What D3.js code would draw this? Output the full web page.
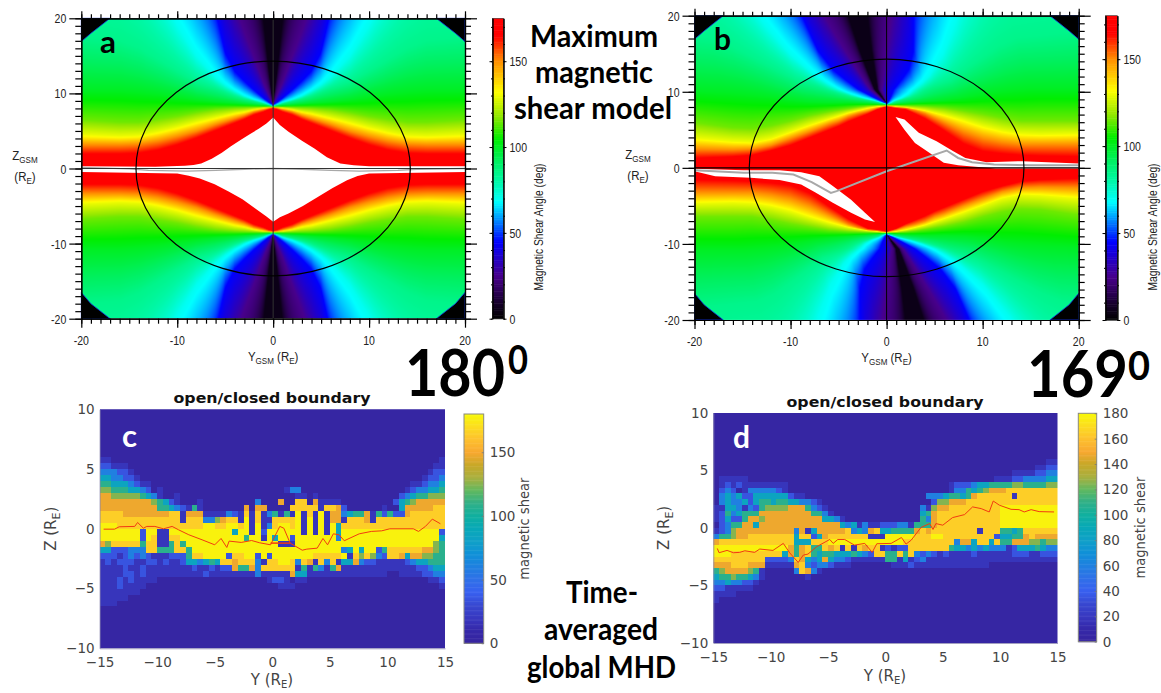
<!DOCTYPE html>
<html lang="en">

<head>
    <meta charset="UTF-8">
    <title>Magnetic shear</title>
    <script src="https://d3js.org/d3.v7.min.js"></script>
    <style>
        body {
            margin: 0;
            background: #fff;
        }

        .model text {
            font-family: 'Liberation Sans', sans-serif;
            font-size: 13.5px;
            fill: #222;
        }

        .mhd text {
            font-family: 'DejaVu Sans', sans-serif;
            font-size: 13.5px;
            fill: #444;
        }

        .big {
            font-family: Lato, sans-serif;
            font-weight: bold;
            fill: #000;
        }
    </style>
</head>

<body>
    <svg id="chart" width="1161" height="693"></svg>
    <script>
        // ---- model panels: z (RE) where the shear reaches each level, per |y| column
        const colY = [0, 0.5, 1, 2, 3, 4, 5, 6, 8, 10, 12, 14, 16, 20];
        const levels = [165, 150, 130, 115, 100, 85, 70, 45, 25, 5];
        const fanZ = [
            [8.35, 8.5, 8.7, 9.0, 9.3, 9.7, 10.2, 10.7, 11.5, 13, 14.5, 16, 17, 17.5],
            [8.4, 8.6, 8.85, 9.2, 9.7, 10.4, 11.2, 12.2, 15, 19, 24, 30, 36, 40],
            [8.45, 8.9, 9.4, 10.5, 11.7, 13, 15.5, 21, 30, 40, 50, 60, 70, 80],
            [8.5, 10, 11.5, 15, 18.3, 22, 27, 32, 45, 55, 65, 75, 85, 95],
            [8.55, 14, 20, 30, 40, 50, 60, 70, 80, 90, 100, 110, 120, 130]
        ];
        const warmA = [
            [8.1, 7.9, 7.6, 7.2, 6.6, 6.1, 5.6, 5.1, 4.1, 3.2, 2.5, 2.1, 2.0, 2.0],
            [8.15, 8.05, 7.9, 7.6, 7.1, 6.7, 6.3, 5.9, 5.0, 4.3, 3.7, 3.3, 3.2, 3.2],
            [8.2, 8.15, 8.1, 7.9, 7.6, 7.4, 7.1, 6.8, 6.2, 5.5, 4.9, 4.4, 4.3, 4.5],
            [8.25, 8.25, 8.25, 8.2, 8.15, 8.1, 8.0, 7.9, 7.5, 7.0, 6.6, 6.2, 6.2, 6.5],
            [8.3, 8.35, 8.4, 8.5, 8.6, 8.7, 8.8, 8.9, 9.2, 9.6, 10, 10.3, 10.5, 10.5]
        ];
        const warmBLeft = [
            [8.1, 7.9, 7.7, 7.1, 6.6, 6.1, 5.5, 5.0, 4.0, 3.0, 2.3, 1.7, 1.5, 1.3],
            [8.15, 8.05, 7.9, 7.5, 7.2, 6.8, 6.2, 5.8, 4.8, 3.9, 3.0, 2.5, 2.4, 2.5],
            [8.2, 8.15, 8.1, 7.9, 7.6, 7.3, 6.9, 6.5, 5.7, 4.8, 3.9, 3.4, 3.5, 3.9],
            [8.25, 8.25, 8.25, 8.15, 8.0, 7.8, 7.6, 7.4, 6.9, 6.2, 5.6, 5.2, 5.3, 6.0],
            [8.3, 8.35, 8.4, 8.5, 8.55, 8.6, 8.6, 8.6, 8.7, 9, 9.5, 9.8, 10, 10.2]
        ];
        const warmBRight = [
            [8.1, 7.95, 7.85, 7.7, 7.1, 6.5, 5.7, 4.9, 3.2, 2.2, 1.9, 1.7, 1.6, 1.5],
            [8.15, 8.1, 8.0, 7.9, 7.6, 7.2, 6.6, 6.0, 4.8, 3.9, 3.4, 3.1, 3.1, 3.1],
            [8.2, 8.2, 8.1, 8.0, 7.8, 7.6, 7.3, 7.0, 6.3, 5.5, 4.9, 4.5, 4.4, 4.5],
            [8.25, 8.25, 8.25, 8.2, 8.15, 8.1, 8.0, 7.9, 7.5, 7.1, 6.6, 6.2, 6.2, 6.2],
            [8.3, 8.35, 8.4, 8.5, 8.6, 8.7, 8.8, 8.9, 9.2, 9.6, 10, 10.3, 10.5, 10.5]
        ];
        // the dark wedge of panel b leans away from y=0 above the cusp
        const spineZ = [8.5, 10.3, 15.5, 20];
        const spineY = [0, -1.1, -2.2, -3];

        // saturated (white) regions, [y, z]
        const whiteA = [[-20, .3], [-12.3, .22], [-9.2, .35], [-8.3, .45], [-7.5, .67], [-6.4, 1.3], [-5.35, 2.1], [-4.4, 2.95], [-3.4, 3.8], [-2.4, 4.6], [-1.5, 5.3], [-.7, 6], [0, 6.8],
            [.7, 5.8], [1.6, 4.9], [3, 3.7], [4.3, 2.65], [5.6, 1.5], [7, .67], [8.4, .42], [10, .3], [20, .3],
            [20, -.45], [10, -.67], [8.8, -1], [7.7, -1.55], [6.2, -2.6], [4.65, -3.8], [3.1, -5], [1.6, -6], [.7, -6.5], [0, -7.1],
            [-.7, -6.4], [-1.9, -5.3], [-3.2, -4.1], [-4.6, -3.1], [-6.1, -2.1], [-7.65, -1.33], [-8.8, -.95], [-10, -.67], [-20, -.45]];
        const whiteBLeft = [[-20, -.13], [-14.9, -.3], [-11.15, -.3], [-8.9, -.57], [-7, -1.1], [-5.6, -2.4], [-3.7, -4.2], [-2.25, -5.9], [-1.2, -7.13],
            [-2.25, -6.8], [-3.7, -5.9], [-5.6, -4.6], [-7.45, -3.2], [-8.9, -2.2], [-11.15, -1.6], [-14.15, -1.3], [-17.85, -1.1], [-20, -.44]];
        const whiteBRight = [[.93, 6.7], [1.86, 6.35], [3.35, 4.6], [5.2, 3.5], [6.9, 2.2], [8.2, 1.3], [10.4, .74], [14.15, .88], [20, .57],
            [20, -.1], [11.35, -.1], [7.45, .35], [5.95, .66], [4.45, 1.97], [2.95, 3.28], [1.86, 5]];

        // grey reconnection lines
        const lineA = [[-20, .15], [-15, -.05], [-13, -.25], [-9, -.35], [-6, -.25], [-3, -.1], [0, 0], [3, -.1], [6, -.25], [9, -.35], [13, -.25], [15, -.1], [20, 0]];
        const lineB = [[-20, -.3], [-14.9, -.66], [-11.9, -.66], [-9.7, -.88], [-7.8, -1.88], [-5.8, -3.3], [-5.2, -3.06], [0, -.44], [6.25, 2.28], [7.45, 1.3], [8.9, .74], [11.2, .44], [14.9, .35], [20, .35]];

        // missing data corners of the model panels
        const corners = [
            [[-20, 20], [-17, 20], [-18, 19], [-19, 18], [-20, 16.9]],
            [[20, 20], [17, 20], [18, 19], [19, 18], [20, 16.9]],
            [[-20, -20], [-17, -20], [-18, -19], [-19, -18], [-20, -16.5]],
            [[20, -20], [17, -20], [18, -19], [19, -18], [20, -16.5]]
        ];
        const magnetopauseRadius = 14.3;

        const modelTicks = [-20, -10, 0, 10, 20];
        const modelMinor = d3.range(-20, 21);
        const modelBarTicks = [0, 50, 100, 150];
        const modelBarMinor = d3.range(0, 171, 10);

        const jetStops = [0, 8, 25, 45, 58, 68, 80, 92, 105, 118, 132, 150, 165, 175];
        const jetColors = ["#000000", "#120024", "#48008c", "#0000ff", "#0090ff", "#00ffff", "#00f8a8", "#00f060", "#00ee00", "#90e800", "#ffff00", "#ff9000", "#ff0000", "#ff0000"];

        // ---- MHD panels: one character per 0.5 RE cell, index into cellShear. Top row z=10.
        const cellShear = [4, 18, 35, 60, 85, 108, 125, 148, 165, 178];
        const firstRow = 8;
        const cRows = [
            "1100000000 0000000000 0000000000 0000000000 0000000000 0000000001",
            "2211100000 0000000000 0000000000 0000000000 0000000000 0000000011",
            "3332210000 0000000000 0000000000 0000000000 0000000000 0000000122",
            "4433221000 0000000000 0000000000 0000000000 0000000000 0000001223",
            "5544432110 0000000000 0000000000 0000000000 0000000000 0000112334",
            "6655544320 1000000000 0000000000 0013300000 0000000000 0001233445",
            "7766666543 1001000000 0000000000 0000110100 0000000000 0023455666",
            "7777777776 5421000100 0000000300 0700880711 1100000000 0245677777",
            "7777777777 5543215100 0000070770 0008888818 8720000001 0047777788",
            "8888777777 7788177711 1132181813 5151918191 7734557152 5227888888",
            "8888888888 8888188833 6788191811 8888919191 7718887188 8888888888",
            "9998888888 8888888899 8899891913 8998919191 9488888888 8888888888",
            "9999999299 1199999999 9994991929 9999919191 9499999999 9999999992",
            "9999999298 1188999999 9999959919 4992999999 9399999999 9999999994",
            "7688888588 1158599999 9999999999 9111999999 9999999999 9999999965",
            "4422233388 5558859999 9999999999 9999999999 9934949925 8888887765",
            "2221232321 1122258899 9928899292 9999999888 8891868632 8874776655",
            "1212221122 1211244345 4887888318 8998387183 8144732211 1112344555",
            "1111211211 1111112112 1227557388 8888151531 5711111111 1111122344",
            "1111221211 1111111121 1111111311 1117441111 1111111111 0011112233",
            "1112121111 0000000000 0000000001 2210110000 0000000000 0000000112",
            "1112111100 0000000000 0000000000 0111000000 0000000000 0000000001",
            "1111111000 0000000000 0000000000 0000000000 0000000000 0000000000",
            "1111100000 0000000000 0000000000 0000000000 0000000000 0000000000",
            "1110000000 0000000000 0000000000 0000000000 0000000000 0000000000"
        ];
        const dRows = [
            "0000000000 0000000000 0000000000 0000000000 0000000000 0000000011",
            "0000000000 0000000000 0000000000 0000000000 0000000000 0000001122",
            "0000000000 0000000000 0000000000 0000000000 0000000000 0011112233",
            "0111110000 0000000000 0000000000 0000000000 0000000001 1122333344",
            "0121211111 1110000000 0000000000 0000000000 0122234455 5566555566",
            "0232013333 3210000000 0000000000 0000000000 0133545677 7888888888",
            "0343422444 4442110000 0000000000 0000000333 4554578888 8818888888",
            "0343342455 4554433210 0000000000 0000000026 6777888888 8888888888",
            "1144313256 6667775321 0000000000 0000003167 7888888888 9999999999",
            "1253455577 7777777553 1000000000 0000004578 8888888888 9999999999",
            "1242257767 7777777774 4310000000 0000005378 8888888888 9999999999",
            "0235577477 7777777777 7743413112 2233155578 8888888888 9999999999",
            "1236777777 7777371477 7778343784 4555578788 8888881888 5545888888",
            "3556778888 8888488247 8888888111 9999988899 8888888882 4455787777",
            "7888888888 8888444888 9999999999 9998888888 8837748848 5577766566",
            "9999999999 9997578558 7818187881 2122888888 8544343433 3124445433",
            "9998888888 8847578545 5444543288 5585832321 2111121111 1122211222",
            "8888888882 2223874347 4332111111 5514123111 1111111111 1111111111",
            "7778887771 1111783233 2111000000 0111211111 1111111100 0000000000",
            "5677776510 0000387310 0000000000 0000000000 0000000000 0000000000",
            "4556554310 0000001000 0000000000 0000000000 0000000000 0000000000",
            "3343322100 0000000000 0000000000 0000000000 0000000000 0000000000",
            "2211111000 0000000000 0000000000 0000000000 0000000000 0000000000",
            "1111000000 0000000000 0000000000 0000000000 0000000000 0000000000",
            "1000000000 0000000000 0000000000 0000000000 0000000000 0000000000"
        ];

        // open/closed boundary, [y, z]
        const boundaryC = [[-14.65, -.03], [-13.7, -.03], [-13.3, .17], [-11.95, .2], [-11.7, .53], [-11.2, .05], [-10.9, .2], [-10.2, .2], [-9.45, 0], [-8.7, .2], [-8.15, -.08], [-7.25, -.5], [-6.1, -.92], [-5, -1.34], [-4.45, -.81], [-3.95, -1.56], [-3.75, -1.03], [-2.7, -1.14], [-1.8, -.98], [-1.1, -1.17], [-.15, -1.34], [.65, .2], [1, .05], [1.55, -1.2], [-.15, -1.2], [1.55, -1.2], [2.6, -1.79], [3, -1.7], [3.9, -1.62], [4.4, -.81], [4.8, -1.34], [5.3, -.42], [5.8, -.5], [6.25, -1], [7.55, -.42], [8.6, -.22], [9.5, -.17], [10.2, 0], [12.25, 0], [12.7, -.22], [13.3, .2], [13.9, .81], [14.6, .42]];
        const boundaryD = [[-14.65, -1.79], [-14.5, -2.16], [-13.8, -1.96], [-13.25, -2.16], [-12.7, -2.13], [-12.25, -1.99], [-11.4, -2.13], [-10.95, -1.84], [-9.8, -1.96], [-8.9, -1.35], [-8.35, -2.16], [-7.6, -3], [-7.15, -2.36], [-6.75, -2.28], [-6, -1.64], [-4.85, -1.01], [-4.55, -1.35], [-4.15, -1.01], [-3.55, -1.01], [-2.7, -1.5], [-1.8, -1.35], [-1.15, -2.13], [-.75, -1.38], [.5, -1.35], [1.4, -.84], [1.8, -1.41], [2.25, -1.07], [3.1, .03], [3.85, .37], [4.15, -.14], [4.4, .37], [5, .23], [5.85, .89], [6.9, 1.15], [7.6, 1.82], [8.35, 1.67], [9.05, 1.38], [9.4, 2.33], [9.95, 1.96], [10.95, 1.61], [11.65, 1.58], [12.1, 1.38], [12.7, 1.58], [13.4, 1.41], [14.7, 1.38]];

        const mhdXTicks = [-15, -10, -5, 0, 5, 10, 15];
        const mhdYTicks = [-10, -5, 0, 5, 10];
        const cBarTicks = [0, 50, 100, 150];
        const dBarTicks = [0, 20, 40, 60, 80, 100, 120, 140, 160, 180];

        const parulaStops = [0, 10, 20, 30, 40, 50, 60, 70, 80, 90, 100, 110, 120, 130, 140, 150, 160, 170, 180];
        const parulaColors = ["#37259f", "#3528a8", "#3838c0", "#3848d0", "#3860f0", "#3070e8", "#2080e0", "#1090d8", "#10a0c8", "#08a8b8", "#10b0a0", "#30b088", "#60b860", "#a8b040", "#c8a828", "#f8a830", "#fdc02e", "#fcdc20", "#f8f808"];

        const chart = d3.select("#chart");
        const jet = d3.scaleLinear().domain(jetStops).range(jetColors).clamp(true);
        const parula = d3.scaleLinear().domain(parulaStops).range(parulaColors).clamp(true);
        const spine = d3.scaleLinear().domain(spineZ).range(spineY).clamp(true);

        function shearAt(table, y, z) {
            const c = Math.min(d3.bisectRight(colY, y) - 1, colY.length - 2);
            const t = (y - colY[c]) / (colY[c + 1] - colY[c]);
            let prev = 0;
            for (let k = 0; k < levels.length; k++) {
                const zk = table[k][c] * (1 - t) + table[k][c + 1] * t;
                if (z < zk) {
                    if (k === 0) return levels[0];
                    return levels[k - 1] + (levels[k] - levels[k - 1]) * (z - prev) / (zk - prev);
                }
                prev = zk;
            }
            return levels[levels.length - 1];
        }

        const tableA = warmA.concat(fanZ);
        const tableBLeft = warmBLeft.concat(fanZ);
        const tableBRight = warmBRight.concat(fanZ);

        const fieldA = (y, z) => shearAt(tableA, Math.abs(y), z >= 0 ? z : -z / 1.03);
        function fieldB(y, z) {
            // lower half is the point mirror of the upper half
            if (z < 0) { y = -y; z = -z / 1.03; }
            const yy = y - spine(z);
            return shearAt(yy >= 0 ? tableBRight : tableBLeft, Math.abs(yy), z);
        }

        function styleAxis(g, color, width) {
            g.selectAll("path,line").attr("stroke", color).attr("stroke-width", width);
        }

        function modelPanel(o) {
            const x = d3.scaleLinear().domain([-20, 20]).range(o.xRange);
            const y = d3.scaleLinear().domain([-20, 20]).range(o.yRange);
            const g = chart.append("g").attr("class", "model");
            const w = Math.round(o.xRange[1] - o.xRange[0]), h = Math.round(o.yRange[0] - o.yRange[1]);

            // raster of the shear field
            const canvas = document.createElement("canvas");
            canvas.width = w;
            canvas.height = h;
            const ctx = canvas.getContext("2d");
            const img = ctx.createImageData(w, h);
            for (let j = 0; j < h; j++) {
                for (let i = 0; i < w; i++) {
                    const c = d3.rgb(jet(o.field(x.invert(o.xRange[0] + i + .5), y.invert(o.yRange[1] + j + .5))));
                    const p = 4 * (j * w + i);
                    img.data[p] = c.r;
                    img.data[p + 1] = c.g;
                    img.data[p + 2] = c.b;
                    img.data[p + 3] = 255;
                }
            }
            ctx.putImageData(img, 0, 0);
            g.append("image")
                .attr("href", canvas.toDataURL())
                .attr("x", o.xRange[0]).attr("y", o.yRange[1])
                .attr("width", o.xRange[1] - o.xRange[0]).attr("height", o.yRange[0] - o.yRange[1])
                .style("filter", "blur(.6px)");

            const poly = d3.line().x(d => x(d[0])).y(d => y(d[1]));
            g.selectAll(".corner").data(corners).enter().append("path")
                .attr("d", d => poly(d) + "Z")
                .attr("fill", "#000").attr("stroke", "#1030e0").attr("stroke-width", .8);
            g.selectAll(".white").data(o.white).enter().append("path")
                .attr("d", d => poly(d) + "Z")
                .attr("fill", "#fff");
            g.append("path").attr("d", poly(o.line))
                .attr("fill", "none").attr("stroke", "#a8a8a8").attr("stroke-width", o.lineWidth);

            g.append("line").attr("x1", x(-20)).attr("x2", x(20)).attr("y1", y(0)).attr("y2", y(0))
                .attr("stroke", o.crossColor).attr("stroke-width", 1.2);
            g.append("line").attr("x1", x(0)).attr("x2", x(0)).attr("y1", y(20)).attr("y2", y(-20))
                .attr("stroke", o.crossColor).attr("stroke-width", 1);
            g.append("ellipse")
                .attr("cx", x(0)).attr("cy", y(0))
                .attr("rx", x(magnetopauseRadius) - x(0)).attr("ry", y(0) - y(magnetopauseRadius))
                .attr("fill", "none").attr("stroke", "#000").attr("stroke-width", 1.2);

            // frame: ticks point outwards on all four sides
            const bottomPos = "translate(0," + y(-20) + ")", rightPos = "translate(" + x(20) + ",0)";
            const frame = [
                [d3.axisBottom(x), bottomPos, 5, 9], [d3.axisTop(x), "translate(0," + y(20) + ")", 4, 7],
                [d3.axisLeft(y), "translate(" + x(-20) + ",0)", 6, 12], [d3.axisRight(y), rightPos, 6, 12]
            ];
            frame.forEach(f => {
                const vals = [modelMinor, modelTicks];
                vals.forEach((v, k) => {
                    const a = chart.append("g").attr("transform", f[1])
                        .call(f[0].tickValues(v).tickSize(k ? f[3] : f[2]).tickSizeOuter(0).tickFormat(""));
                    styleAxis(a, "#000", 1.2);
                });
            });

            // tick labels, narrowed like the original
            modelTicks.forEach(t => {
                g.append("text").attr("text-anchor", "middle")
                    .attr("transform", `translate(${x(t)},${y(-20) + 26}) scale(.78,1)`).text(t);
                g.append("text").attr("text-anchor", "end")
                    .attr("transform", `translate(${x(-20) - 15},${y(t) + 5}) scale(.78,1)`).text(t);
            });
            const xl = g.append("text").attr("text-anchor", "middle")
                .attr("transform", `translate(${x(0)},${y(-20) + 42}) scale(.85,1)`);
            xl.append("tspan").text("Y");
            xl.append("tspan").attr("dy", 3).style("font-size", "9.5px").text("GSM");
            xl.append("tspan").attr("dy", -3).text(" (R");
            xl.append("tspan").attr("dy", 3).style("font-size", "9.5px").text("E");
            xl.append("tspan").attr("dy", -3).text(")");
            const zl = g.append("text").attr("text-anchor", "middle")
                .attr("transform", `translate(${o.zLabelX},${y(0) - 9}) scale(.85,1)`);
            zl.append("tspan").text("Z");
            zl.append("tspan").attr("dy", 3).style("font-size", "9.5px").text("GSM");
            const zr = g.append("text").attr("text-anchor", "middle")
                .attr("transform", `translate(${o.zLabelX},${y(0) + 12}) scale(.85,1)`);
            zr.append("tspan").text("(R");
            zr.append("tspan").attr("dy", 3).style("font-size", "9.5px").text("E");
            zr.append("tspan").attr("dy", -3).text(")");

            // colour bar
            const barY = d3.scaleLinear().domain([0, 175]).range(o.yRange);
            g.selectAll(".bar").data(d3.range(0, 175, 1)).enter().append("rect")
                .attr("x", o.barX[0]).attr("width", o.barX[1] - o.barX[0])
                .attr("y", d => barY(d + 1)).attr("height", d => barY(d) - barY(d + 1) + .5)
                .attr("fill", d => jet(d + .5));
            g.append("rect").attr("x", o.barX[0]).attr("width", o.barX[1] - o.barX[0])
                .attr("y", o.yRange[1]).attr("height", o.yRange[0] - o.yRange[1])
                .attr("fill", "none").attr("stroke", "#333").attr("stroke-width", .6);
            [[modelBarMinor, 1.5], [modelBarTicks, 3]].forEach(t => {
                styleAxis(chart.append("g").attr("transform", `translate(${o.barX[0]},0)`)
                    .call(d3.axisLeft(barY).tickValues(t[0]).tickSize(t[1]).tickSizeOuter(0).tickFormat("")), "#000", 1);
                styleAxis(chart.append("g").attr("transform", `translate(${o.barX[1]},0)`)
                    .call(d3.axisRight(barY).tickValues(t[0]).tickSize(t[1]).tickSizeOuter(0).tickFormat("")), "#000", 1);
            });
            modelBarTicks.forEach(t => {
                g.append("text").attr("transform", `translate(${o.barX[1] + 6},${barY(t) + 5}) scale(.78,1)`).text(t);
            });
            g.append("text").attr("text-anchor", "middle")
                .attr("transform", `translate(${o.barLabelX},${o.barLabelY}) rotate(-90) scale(.82,1)`)
                .style("font-size", "12.5px").text("Magnetic Shear Angle (deg)");
        }

        function mhdPanel(o) {
            const x = d3.scaleLinear().domain([-15, 15]).range(o.xRange);
            const y = d3.scaleLinear().domain([-10, 10]).range(o.yRange);
            const g = chart.append("g").attr("class", "mhd");
            const cells = [];
            d3.range(40).forEach(r => {
                const row = (o.rows[r - firstRow] || "").replace(/ /g, "");
                d3.range(60).forEach(c => cells.push({ c, r, v: cellShear[+(row[c] || 0)] }));
            });
            const clipId = o.name + "Clip";
            chart.append("clipPath").attr("id", clipId).append("rect")
                .attr("x", o.xRange[0]).attr("y", o.yRange[1])
                .attr("width", o.xRange[1] - o.xRange[0]).attr("height", o.yRange[0] - o.yRange[1]);
            g.append("g").attr("clip-path", `url(#${clipId})`).append("g")
                .style("filter", "blur(.7px)")
                .selectAll("rect").data(cells).enter().append("rect")
                .attr("x", d => x(-15 + d.c * .5))
                .attr("y", d => y(10 - d.r * .5))
                .attr("width", x(.5) - x(0) + .6)
                .attr("height", y(0) - y(.5) + .6)
                .attr("shape-rendering", "crispEdges")
                .attr("fill", d => parula(d.v));
            g.append("path")
                .attr("d", d3.line().x(d => x(d[0])).y(d => y(d[1]))(o.boundary))
                .attr("fill", "none").attr("stroke", "#f23a10").attr("stroke-width", 1);

            const ax = g.append("g").attr("transform", `translate(0,${o.yRange[0]})`)
                .call(d3.axisBottom(x).tickValues(mhdXTicks).tickSize(0).tickPadding(9));
            const ay = g.append("g").attr("transform", `translate(${o.xRange[0]},0)`)
                .call(d3.axisLeft(y).tickValues(mhdYTicks).tickSize(0).tickPadding(5));
            styleAxis(ax, "#8a86b0", .8);
            styleAxis(ay, "#8a86b0", .8);
            ax.selectAll("text").style("font-family", "'DejaVu Sans'").style("font-size", "13.5px").attr("fill", "#444");
            ay.selectAll("text").style("font-family", "'DejaVu Sans'").style("font-size", "13.5px").attr("fill", "#444");

            g.append("text").attr("x", o.titleX).attr("y", o.titleY).attr("text-anchor", "middle")
                .attr("textLength", 197).attr("lengthAdjust", "spacingAndGlyphs")
                .style("font-weight", "bold").style("font-size", "14px").style("fill", "#111")
                .text("open/closed boundary");
            const xl = g.append("text").attr("x", o.titleX).attr("y", o.xLabelY).attr("text-anchor", "middle")
                .style("font-size", "15px");
            xl.append("tspan").text("Y (R");
            xl.append("tspan").attr("dy", 3).style("font-size", "10px").text("E");
            xl.append("tspan").attr("dy", -3).text(")");
            const yl = g.append("text").attr("text-anchor", "middle")
                .attr("transform", `translate(${o.zLabelX},${y(0)}) rotate(-90)`).style("font-size", "15px");
            yl.append("tspan").text("Z (R");
            yl.append("tspan").attr("dy", 4).style("font-size", "11px").text("E");
            yl.append("tspan").attr("dy", -4).text(")");

            // colour bar
            const barY = d3.scaleLinear().domain([0, 180]).range(o.barY);
            g.selectAll(".bar").data(d3.range(0, 180, 1)).enter().append("rect")
                .attr("x", o.barX[0]).attr("width", o.barX[1] - o.barX[0])
                .attr("y", d => barY(d + 1)).attr("height", d => barY(d) - barY(d + 1) + .5)
                .attr("fill", d => parula(d + .5));
            g.append("rect").attr("x", o.barX[0]).attr("width", o.barX[1] - o.barX[0])
                .attr("y", o.barY[1]).attr("height", o.barY[0] - o.barY[1])
                .attr("fill", "none").attr("stroke", "#8a8a80").attr("stroke-width", 1);
            const bar = g.append("g").attr("transform", `translate(${o.barX[1]},0)`)
                .call(d3.axisLeft(barY).tickValues(o.barTicks).tickSize(2).tickSizeOuter(0).tickFormat(""));
            styleAxis(bar, "#777", .8);
            bar.select("path").remove();
            o.barTicks.forEach(t => {
                g.append("text").attr("x", o.barX[1] + 6).attr("y", barY(t) + 5).text(t);
            });
            g.append("text").attr("text-anchor", "middle")
                .attr("transform", `translate(${o.barLabelX},${(o.barY[0] + o.barY[1]) / 2}) rotate(-90)`)
                .attr("textLength", 102).attr("lengthAdjust", "spacingAndGlyphs")
                .text("magnetic shear");
        }

        modelPanel({
            xRange: [81.3, 465], yRange: [318.7, 18.3], field: fieldA, white: [whiteA], line: lineA, lineWidth: 1.3,
            crossColor: "#333", zLabelX: 25, barX: [492.5, 503.5], barLabelX: 543, barLabelY: 227
        });
        modelPanel({
            xRange: [694.5, 1078.7], yRange: [320, 15.7], field: fieldB, white: [whiteBLeft, whiteBRight], line: lineB, lineWidth: 2,
            crossColor: "#000", zLabelX: 638, barX: [1105.5, 1117.4], barLabelX: 1157, barLabelY: 227
        });
        mhdPanel({
            name: "c", rows: cRows, boundary: boundaryC, xRange: [99.6, 445], yRange: [648.3, 409.3], titleX: 272, titleY: 403,
            xLabelY: 685, zLabelX: 56, barX: [464, 483.7], barY: [643.3, 414], barTicks: cBarTicks, barLabelX: 529
        });
        mhdPanel({
            name: "d", rows: dRows, boundary: boundaryD, xRange: [713.3, 1057.5], yRange: [643, 412.7], titleX: 885, titleY: 407,
            xLabelY: 681, zLabelX: 669, barX: [1078.3, 1096.7], barY: [641.7, 413.3], barTicks: dBarTicks, barLabelX: 1145
        });

        // slide annotations
        const bigText = (s, x, y, size, len, fill) => chart.append("text").attr("class", "big")
            .attr("x", x).attr("y", y).attr("textLength", len).attr("lengthAdjust", "spacingAndGlyphs")
            .style("font-size", size + "px").style("fill", fill || "#000").text(s);
        bigText("a", 100, 53, 30, 16);
        bigText("b", 714, 50, 30, 17);
        bigText("c", 122, 447, 30, 15, "#fff");
        bigText("d", 733, 448, 30, 17, "#fff");
        bigText("Maximum", 530, 47, 30, 128);
        bigText("magnetic", 535, 83, 30, 118);
        bigText("shear model", 514, 119, 30, 158);
        bigText("180", 405, 396, 65, 100);
        bigText("0", 508, 374, 40, 20);
        bigText("169", 1027, 397, 65, 101);
        bigText("0", 1128, 380, 40, 22);
        bigText("Time-", 566, 603, 30, 72);
        bigText("averaged", 544, 640, 30, 114);
        bigText("global MHD", 527, 678, 30, 149);
    </script>
</body>

</html>
